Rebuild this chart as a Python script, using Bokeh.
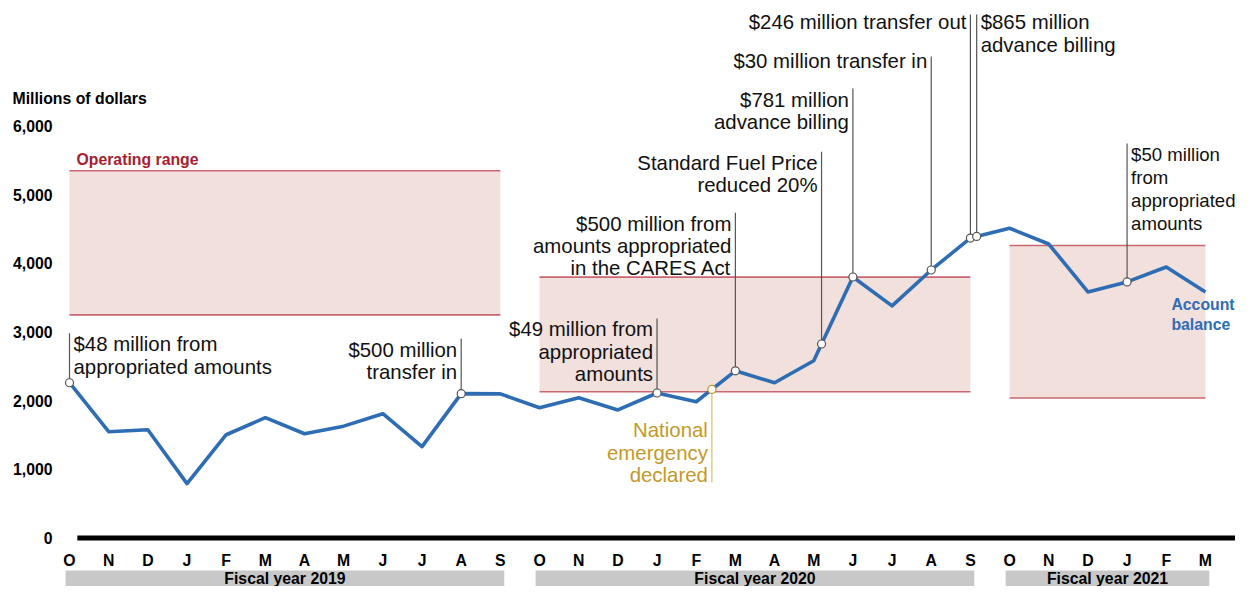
import numpy as np
from bokeh.plotting import figure
from bokeh.models import Range1d, FixedTicker, NumeralTickFormatter, Label
from bokeh.embed import file_html
from bokeh.resources import INLINE
from bokeh.core.properties import value

# ---------------- data ----------------
month_letters = ["O", "N", "D", "J", "F", "M", "A", "M", "J", "J", "A", "S",
                 "O", "N", "D", "J", "F", "M", "A", "M", "J", "J", "A", "S",
                 "O", "N", "D", "J", "F", "M"]
balance = [2262, 1549, 1578, 793, 1505, 1753, 1519, 1630, 1811, 1332, 2103, 2100,
           1898, 2044, 1866, 2113, 1985, 2436, 2262, 2582, 3802, 3381, 3904, 4369,
           4512, 4282, 3584, 3730, 3948, 3584]
fy_labels = ["Fiscal year 2019", "Fiscal year 2020", "Fiscal year 2021"]
fy_first = [0, 12, 24]
fy_last = [11, 23, 29]
range_low = [3250, 2130, 2040]
range_high = [5350, 3800, 4260]
y_ticks = [0, 1000, 2000, 3000, 4000, 5000, 6000]

event_texts = [
    "$48 million from\nappropriated amounts",
    "$500 million\ntransfer in",
    "$49 million from\nappropriated\namounts",
    "National\nemergency\ndeclared",
    "$500 million from\namounts appropriated\nin the CARES Act",
    "Standard Fuel Price\nreduced 20%",
    "$781 million\nadvance billing",
    "$30 million transfer in",
    "$246 million transfer out",
    "$865 million\nadvance billing",
    "$50 million\nfrom\nappropriated\namounts",
]
event_pos = [0, 10, 15, 16.4, 17, 19.2, 20, 22, 23, 23.16, 27]

# ---------------- annotation layout (in axis units) ----------------
label_top = [2981, 2906, 3198, 1727, 4739, 5627, 6546, 7100, 7668, 7668, 5745]
leader_end = [2981, 2906, 3198, 809, 4739, 5627, 6546, 7012, 7623, 7623, 5745]
label_side = ["left", "right", "right", "right", "right", "right", "right",
              "right", "right", "left", "left"]
label_size = ["20.4px"] * 10 + ["18.6px"]
label_lh = [1.01] * 10 + [1.107]
BLACK_T = "#111111"
GOLD_T = "#c19a2a"
label_color = [BLACK_T, BLACK_T, BLACK_T, GOLD_T] + [BLACK_T] * 7
leader_color = ["#555555", "#555555", "#555555", "#d9bf6e"] + ["#555555"] * 7
marker_line = ["#555555", "#555555", "#555555", "#c19a2a"] + ["#555555"] * 7

BLUE = "#2e6db4"
RANGE_FILL = "#f2e0dd"
RANGE_LINE = "#c96672"
RANGE_TEXT = "#a71d31"
FONT = "Liberation Sans"
BOLD_SIZE = "15.8px"

# band (fiscal year bars) placement in axis units
BAND_TOP, BAND_BOTTOM, BAND_MID = -472, -705, -588
XAXIS_AT = -108
YAXIS_AT = -0.1787

W, H = 1235, 586
idx = np.arange(len(balance))

p = figure(width=W, height=H, x_range=Range1d(-1.7615, 29.768),
           y_range=Range1d(-705, 7828), output_backend="svg",
           toolbar_location=None, min_border_left=0, min_border_right=0,
           min_border_top=0, min_border_bottom=0)
p.outline_line_color = None
p.grid.visible = False
p.background_fill_color = "white"
p.border_fill_color = "white"

# x axis (months)
xa = p.xaxis[0]
xa.fixed_location = XAXIS_AT
xa.ticker = FixedTicker(ticks=list(range(len(month_letters))))
xa.major_label_overrides = {i: m for i, m in enumerate(month_letters)}
xa.axis_line_color = None
xa.major_tick_line_color = None
xa.minor_tick_line_color = None
xa.major_tick_out = 0
xa.major_tick_in = 0
xa.major_label_standoff = 6
xa.major_label_text_font = FONT
xa.major_label_text_font_style = "bold"
xa.major_label_text_font_size = BOLD_SIZE
xa.major_label_text_color = "black"

# y axis
ya = p.yaxis[0]
ya.fixed_location = YAXIS_AT
ya.ticker = FixedTicker(ticks=y_ticks)
ya.formatter = NumeralTickFormatter(format="0,0")
ya.axis_line_color = None
ya.major_tick_line_color = None
ya.minor_tick_line_color = None
ya.major_tick_out = 0
ya.major_tick_in = 0
ya.major_label_standoff = 10
ya.major_label_text_font = FONT
ya.major_label_text_font_style = "bold"
ya.major_label_text_font_size = BOLD_SIZE
ya.major_label_text_color = "black"

# operating ranges
p.quad(left=fy_first, right=fy_last, bottom=range_low, top=range_high,
       fill_color=RANGE_FILL, line_color=None)
p.segment(x0=fy_first, y0=range_high, x1=fy_last, y1=range_high,
          line_color=RANGE_LINE, line_width=1.6)
p.segment(x0=fy_first, y0=range_low, x1=fy_last, y1=range_low,
          line_color=RANGE_LINE, line_width=1.6)
p.text(x=[fy_first[0]], y=[range_high[0]], text=["Operating range"],
       x_offset=7, y_offset=-3, text_align="left", text_baseline="bottom",
       text_font=value(FONT), text_font_style="bold",
       text_font_size=BOLD_SIZE, text_color=RANGE_TEXT)

# zero line
p.segment(x0=[0.2], y0=[0], x1=[31], y1=[0], line_color="black", line_width=5)

# balance line
p.line(x=idx, y=balance, line_color=BLUE, line_width=3.6, line_join="round")

# events
ev_y = np.interp(event_pos, idx, balance)
p.segment(x0=event_pos, y0=ev_y, x1=event_pos, y1=leader_end,
          line_color=leader_color, line_width=1.2)
p.scatter(x=event_pos, y=ev_y, size=8, marker="circle", fill_color="white",
          line_color=marker_line, line_width=1.2)

for i, txt in enumerate(event_texts):
    side = label_side[i]
    p.text(x=[event_pos[i]], y=[label_top[i]], text=[txt],
           text_color=label_color[i],
           x_offset=4 if side == "left" else -4, text_align=side,
           text_baseline="top", text_font=value(FONT),
           text_font_size=label_size[i], text_line_height=label_lh[i])

# account balance label
p.text(x=[idx[-1]], y=[balance[-1]], text=["Account\nbalance"],
       x_offset=-34, y_offset=4, text_align="left", text_baseline="top",
       text_font=value(FONT), text_font_style="bold",
       text_font_size=BOLD_SIZE, text_color=BLUE, text_line_height=1.19)

# axis unit label
p.add_layout(Label(x=-1.455, y=6401, text="Millions of dollars",
                   text_font=FONT, text_font_style="bold",
                   text_font_size=BOLD_SIZE, text_color="black",
                   text_baseline="middle", text_align="left"))

# fiscal year band
fy_l = np.array(fy_first) - 0.1
fy_r = np.array(fy_last) + 0.1
p.quad(left=fy_l, right=fy_r, bottom=BAND_BOTTOM, top=BAND_TOP,
       fill_color="#c8c8c8", line_color=None)
p.text(x=(fy_l + fy_r) / 2, y=[BAND_MID] * 3, text=fy_labels, text_align="center",
       text_baseline="middle", text_font=value(FONT), text_font_style="bold",
       text_font_size=BOLD_SIZE, text_color="black")

open("out.html", "w").write(file_html(p, INLINE))
